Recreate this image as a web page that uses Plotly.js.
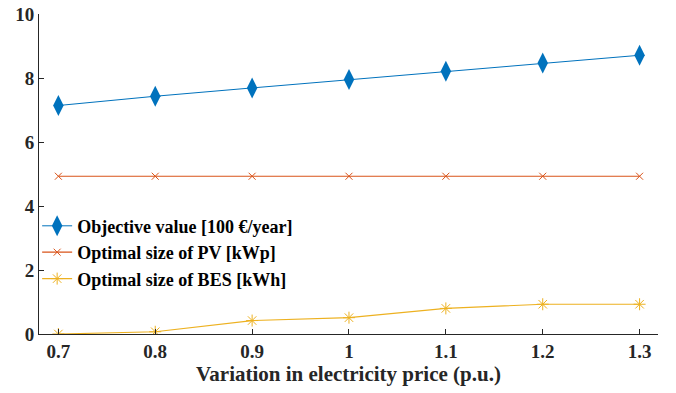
<!DOCTYPE html>
<html><head><meta charset="utf-8">
<script src="https://cdn.plot.ly/plotly-3.0.1.min.js"></script>
<style>body{margin:0;background:#fff}#c{width:676px;height:393px}</style>
</head><body><div id="c"></div>
<script>
const priceVariation = [0.7, 0.8, 0.9, 1.0, 1.1, 1.2, 1.3];
const objectiveValue = [7.14, 7.43, 7.69, 7.95, 8.21, 8.47, 8.71];
const pvSize = [4.93, 4.93, 4.93, 4.93, 4.93, 4.93, 4.93];
const besSize = [0.0, 0.07, 0.42, 0.51, 0.80, 0.93, 0.93];
const seriesNames = ['Objective value [100 €/year]', 'Optimal size of PV [kWp]', 'Optimal size of BES [kWh]'];
const xTickLabels = ['0.7','0.8','0.9','1','1.1','1.2','1.3'];

const font = 'Liberation Serif, Times New Roman, serif';
const traces = [
  {x: priceVariation, y: objectiveValue, name: seriesNames[0], mode: 'lines+markers',
   line: {color: '#0072BD', width: 1}, marker: {symbol: 'diamond-tall', size: 15, color: '#0072BD'}},
  {x: priceVariation, y: pvSize, name: seriesNames[1], mode: 'lines+markers',
   line: {color: '#D95319', width: 1.2}, marker: {symbol: 'x-thin-open', size: 7, color: '#D95319', line: {color: '#D95319', width: 1}}},
  {x: priceVariation, y: besSize, name: seriesNames[2], mode: 'lines+markers',
   line: {color: '#EDB120', width: 1.2}, marker: {symbol: 'asterisk-open', size: 10, color: '#EDB120', line: {color: '#EDB120', width: 1}}}
];
const layout = {
  width: 676, height: 393,
  margin: {l: 39, r: 18, t: 14, b: 59},
  paper_bgcolor: '#fff', plot_bgcolor: '#fff',
  font: {family: font, color: '#262626'},
  showlegend: true,
  legend: {x: -0.003, y: 0.395, xanchor: 'left', yanchor: 'top', bgcolor: 'rgba(0,0,0,0)',
    font: {family: font, size: 18, color: '#000', weight: 'bold'}, tracegroupgap: 0, itemwidth: 30},
  xaxis: {range: [0.68, 1.319], tickvals: priceVariation, ticktext: xTickLabels,
    ticks: 'inside', ticklen: 5, tickcolor: '#262626', showline: true, linecolor: '#262626', linewidth: 1,
    showgrid: false, zeroline: false, tickfont: {family: font, size: 19, weight: 'bold', color: '#262626'},
    title: {text: 'Variation in electricity price (p.u.)', font: {family: font, size: 21, weight: 'bold', color: '#262626'}, standoff: 5}},
  yaxis: {range: [0, 10], tickvals: [0,2,4,6,8,10], ticks: 'inside', ticklen: 5, tickcolor: '#262626',
    showline: true, linecolor: '#262626', linewidth: 1, showgrid: false, zeroline: false,
    tickfont: {family: font, size: 19, weight: 'bold', color: '#262626'}}
};
Plotly.newPlot('c', traces, layout, {displayModeBar: false, staticPlot: true});
</script></body></html>
